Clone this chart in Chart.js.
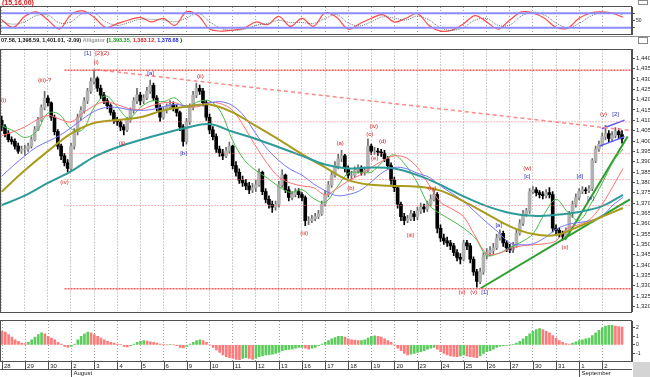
<!DOCTYPE html>
<html>
<head>
<meta charset="utf-8">
<script src="https://cdn.jsdelivr.net/npm/chart.js@4.4.1/dist/chart.umd.min.js"></script>
<style>
  body { margin: 0; background: #fff; }
  #wrap { position: relative; width: 650px; height: 377px; overflow: hidden; background: #fff; }
  canvas { position: absolute; left: 0; }
  #stoch { top: 0; }
  #main { top: 45px; }
  #osc { top: 317px; }
</style>
</head>
<body>
<div id="wrap">
  <canvas id="stoch" width="650" height="45"></canvas>
  <canvas id="main" width="650" height="271"></canvas>
  <canvas id="osc" width="650" height="60"></canvas>
</div>
<script>
// ---- data ----
const dayLabels = ['28','29','30','2','3','4','5','6','9','10','11','12','13','16','17','18','19','20','23','24','25','26','27','30','31','1','2'];
const monthLabels = ['August', 'September'];
const monthDays = [3, 25];
const barsPerDay = 7;

const firstOpen = 1410.0;
const closes = [
  1406.8, 1403.6, 1400.7, 1399.8, 1397.5, 1395.1, 1396.1,
  1396.1, 1397.5, 1400.7, 1405.4, 1410.1, 1416.2, 1420.8,
  1418.5, 1411.5, 1404.5, 1397.5, 1392.8, 1389.5, 1386.7,
  1397.5, 1404.5, 1411.5, 1414.8, 1419.4, 1424.1, 1428.8,
  1430.2, 1425.5, 1422.2, 1419.4, 1417.1, 1413.8, 1410.1,
  1409.2, 1406.8, 1405.4, 1410.1, 1414.8, 1419.4, 1422.2,
  1419.4, 1420.8, 1424.1, 1426.9, 1420.8, 1416.2, 1411.5,
  1414.8, 1416.6, 1417.6, 1416.2, 1413.8, 1406.8, 1399.8,
  1409.2, 1416.2, 1422.2, 1425.5, 1424.1, 1418.5, 1411.5,
  1405.4, 1402.1, 1396.1, 1394.2, 1392.8, 1395.1, 1397.5,
  1388.1, 1384.9, 1381.1, 1379.7, 1378.3, 1376.4, 1377.4,
  1378.8, 1384.9, 1375.5, 1371.8, 1369.4, 1368.0, 1369.4,
  1378.8, 1383.5, 1376.4, 1372.7, 1374.1, 1375.5, 1374.1,
  1372.7, 1361.5, 1361.5, 1362.4, 1363.4, 1364.8, 1369.4,
  1374.1, 1378.8, 1383.5, 1388.1, 1391.4, 1392.8, 1386.7,
  1383.5, 1383.5, 1385.8, 1386.7, 1384.9, 1385.8, 1397.5,
  1395.1, 1395.1, 1394.7, 1394.2, 1391.4, 1388.1, 1381.1,
  1377.4, 1369.4, 1363.4, 1361.5, 1362.4, 1364.8, 1363.4,
  1366.2, 1368.0, 1367.1, 1369.4, 1371.8, 1374.1, 1357.8,
  1353.1, 1351.7, 1350.7, 1349.3, 1346.1, 1343.7, 1342.8,
  1350.7, 1349.3, 1342.8, 1336.7, 1332.1, 1336.7, 1344.7,
  1346.1, 1347.0, 1348.4, 1353.1, 1355.4, 1350.7, 1348.4,
  1347.5, 1349.3, 1355.4, 1360.1, 1364.8, 1366.2, 1375.5,
  1376.4, 1375.0, 1374.1, 1373.6, 1375.0, 1374.1, 1357.8,
  1356.8, 1355.4, 1354.0, 1356.8, 1364.8, 1369.4, 1372.7,
  1375.5, 1376.4, 1376.0, 1376.9, 1390.5, 1396.1, 1398.4,
  1402.1, 1403.6, 1401.2, 1402.6, 1404.5, 1403.1, 1401.0
];
const highs = [
  1412, 1408, 1405, 1402, 1401, 1399, 1397.5,
  1398, 1399, 1402, 1407, 1411.5, 1417.5, 1424,
  1422, 1419, 1412.5, 1405.5, 1398.5, 1394, 1391,
  1399, 1406, 1413, 1416.5, 1421, 1425.5, 1430.5,
  1434.5, 1431, 1427, 1423.5, 1420.5, 1418, 1415,
  1411.5, 1410.5, 1408, 1411.5, 1416, 1421, 1425.5,
  1423.5, 1422.5, 1426, 1429.5, 1428, 1422, 1417.5,
  1416.5, 1418, 1419.5, 1419, 1417.5, 1414.5, 1408,
  1411, 1418, 1424, 1428, 1427, 1425.5, 1419.5,
  1413, 1407, 1403.5, 1397.5, 1396, 1397, 1399.5,
  1398, 1390, 1386.5, 1383, 1381.5, 1380, 1379.5,
  1381, 1386.5, 1385.5, 1377, 1373.5, 1371, 1371,
  1380.5, 1386, 1384, 1378, 1375.5, 1377, 1377,
  1375, 1373.5, 1363.5, 1364, 1365, 1366.5, 1371,
  1376, 1380.5, 1385, 1390, 1393.5, 1395.5, 1393.5,
  1388, 1385.5, 1387.5, 1388.5, 1388, 1387.5, 1401,
  1398.5, 1397, 1396.5, 1396, 1395.5, 1392.5, 1389.5,
  1382.5, 1378.5, 1370.5, 1365, 1364, 1366.5, 1366,
  1368, 1370, 1369.5, 1371, 1374, 1376.5, 1375,
  1359.5, 1355, 1353.5, 1352, 1350.5, 1347.5, 1345.5,
  1352, 1352, 1350.5, 1344, 1338, 1338.5, 1346,
  1348, 1349, 1350.5, 1355, 1357, 1356.5, 1352,
  1350, 1351, 1357, 1362, 1366.5, 1367.5, 1377,
  1378, 1377.5, 1376, 1375.5, 1376.5, 1377.5, 1375.5,
  1359.5, 1358, 1356.5, 1358, 1366, 1371, 1374.5,
  1377, 1378, 1377.5, 1378.5, 1391.5, 1397.5, 1400,
  1404, 1407.6, 1405, 1404.5, 1406.5, 1406, 1405
];
const lows = [
  1405, 1402, 1399.5, 1398.5, 1396, 1394, 1394,
  1393, 1395, 1396.5, 1400, 1405, 1409.5, 1415,
  1417, 1410, 1403, 1396, 1391, 1388, 1385,
  1386, 1396, 1403, 1410, 1413.5, 1418, 1423,
  1427.5, 1424, 1420.5, 1418, 1415.5, 1412.5, 1408.5,
  1407.5, 1405, 1403, 1404.5, 1409, 1413.5, 1418,
  1417.5, 1418, 1420, 1423, 1419.5, 1414.5, 1409.5,
  1410.5, 1413.5, 1415.5, 1414.5, 1412, 1405, 1397.5,
  1398.5, 1408, 1415, 1421, 1422.5, 1417, 1410,
  1403.5, 1400.5, 1394.5, 1392.5, 1391, 1392, 1394,
  1386.5, 1383, 1379.5, 1378, 1376.5, 1374.5, 1375,
  1375.5, 1378, 1374, 1370, 1367.5, 1365.5, 1366.5,
  1368, 1377.5, 1375, 1371, 1371.5, 1373, 1372.5,
  1371, 1359, 1359.5, 1360.5, 1361.5, 1362.5, 1364,
  1368.5, 1373, 1377.5, 1382.5, 1386.5, 1390, 1385,
  1382, 1381.5, 1382.5, 1384.5, 1383.5, 1383.5, 1385,
  1393.5, 1393.5, 1393, 1392.5, 1390, 1386.5, 1379,
  1375.5, 1367.5, 1361.5, 1359.5, 1360.5, 1361.5, 1361.5,
  1362, 1365, 1365.5, 1366, 1368.5, 1371, 1355.5,
  1351.5, 1350, 1349, 1347.5, 1344.5, 1342, 1340.5,
  1342, 1347.5, 1341, 1335, 1329.3, 1331, 1335.5,
  1343, 1344.5, 1345.5, 1347.5, 1352, 1349, 1346.5,
  1346, 1346, 1348.5, 1354.5, 1359, 1363.5, 1365,
  1374.5, 1373.5, 1372.5, 1372, 1372.5, 1372.5, 1356,
  1355, 1353.5, 1352, 1353, 1356, 1363, 1368,
  1371.5, 1374.5, 1374.5, 1375, 1376, 1389.5, 1395,
  1397.5, 1400.5, 1399.5, 1400, 1401.5, 1401, 1399
];

// moving averages, read at whole days (slow) and half days (Alligator)
const slowX = [0,1,2,3,4,5,6,7,8,9,10,11,12,13,14,15,16,17,18,19,20,21,22,23,24,25,26,26.9];
const tealAvg = [1369.0, 1373.6, 1379.7, 1385.3, 1392.3, 1397.0, 1400.5, 1403.6, 1406.4, 1408.2, 1404.5, 1401.0, 1397.0, 1392.8,
  1388.6, 1386.7, 1387.2, 1386.7, 1383.5, 1378.8, 1373.2, 1368.5, 1365.2, 1363.8, 1364.3, 1365.7, 1368.5, 1374.0];
const oliveAvg = [1375.5, 1385.8, 1395.1, 1403.6, 1408.7, 1410.1, 1411.5, 1414.8, 1416.7, 1417.6, 1413.8, 1407.3, 1400.7, 1393.7,
  1387.2, 1381.1, 1378.8, 1378.3, 1377.9, 1376.0, 1370.8, 1364.8, 1358.7, 1355.0, 1354.5, 1358.7, 1363.4, 1367.6];

const fastX = [0,0.5,1,1.5,2,2.5,3,3.5,4,4.5,5,5.5,6,6.5,7,7.5,8,8.5,9,9.5,10,10.5,11,11.5,12,12.5,13,13.5,14,14.5,
  15,15.5,16,16.5,17,17.5,18,18.5,19,19.5,20,20.5,21,21.5,22,22.5,23,23.5,24,24.5,25,25.5,26,26.5,26.9];
const jawBlue = [1383.0, 1388.1, 1392.8, 1397.0, 1399.8, 1402.6, 1406.4, 1410.6, 1414.3, 1416.2, 1416.2, 1415.2, 1414.8, 1415.2,
  1416.6, 1417.6, 1417.1, 1417.1, 1418.5, 1419.0, 1417.1, 1412.0, 1403.6, 1396.1, 1390.5, 1386.3, 1383.5, 1379.3, 1376.0, 1373.6,
  1374.1, 1376.0, 1380.2, 1384.9, 1387.2, 1386.7, 1384.4, 1382.5, 1378.3, 1374.6, 1370.8, 1365.7, 1360.6, 1355.9, 1350.7, 1349.8,
  1350.3, 1353.1, 1357.3, 1359.6, 1360.6, 1361.5, 1363.8, 1369.4, 1372.7];
const teethRed = [1402.6, 1404.5, 1406.8, 1410.1, 1412.4, 1410.6, 1409.2, 1413.4, 1417.1, 1419.0, 1417.6, 1415.7, 1415.2, 1417.1,
  1418.5, 1418.5, 1416.6, 1416.6, 1418.5, 1418.0, 1414.8, 1406.8, 1397.5, 1389.1, 1382.5, 1379.7, 1378.3, 1377.4, 1374.1, 1376.9,
  1380.7, 1383.5, 1387.2, 1390.5, 1392.8, 1391.9, 1387.2, 1378.8, 1370.4, 1367.1, 1363.4, 1354.0, 1345.6, 1345.6, 1347.9, 1349.3,
  1349.8, 1350.3, 1351.7, 1357.8, 1359.6, 1362.4, 1369.4, 1378.8, 1386.7];
const lipsGreen = [1407.3, 1405.0, 1401.7, 1404.5, 1413.4, 1412.9, 1405.9, 1405.4, 1416.2, 1421.8, 1416.6, 1411.0, 1416.2, 1419.4,
  1419.0, 1420.8, 1416.2, 1419.0, 1419.4, 1413.8, 1400.2, 1390.9, 1385.8, 1382.1, 1377.9, 1375.1, 1376.5, 1372.2, 1370.4, 1377.4,
  1384.4, 1384.9, 1384.9, 1390.0, 1393.3, 1388.1, 1379.7, 1369.0, 1364.8, 1361.5, 1357.8, 1353.1, 1344.7, 1345.6, 1348.4, 1351.2,
  1355.0, 1364.8, 1371.8, 1365.7, 1361.5, 1369.4, 1379.7, 1390.5, 1396.1];

// stochastic panel
const stochTitle = '(15,16,00)';
const stochLevels = [80, 20];
const stochK = [52,22,67,85,52,15,74,89,63,22,37,52,63,44,59,30,85,70,15,7,11,19,44,33,67,26,59,26,81,63,
  15,37,59,74,44,59,78,30,7,11,37,70,44,15,52,85,81,59,22,19,59,81,85,78,63];
const stochD = [45,35,45,70,72,40,45,78,80,45,30,42,55,55,52,45,60,80,45,18,10,14,30,38,50,42,42,38,58,74,
  40,28,45,65,60,52,68,52,20,10,22,52,58,30,32,68,84,72,40,20,38,68,82,82,75];

// oscillator histogram, one value per price bar
const aoValues = [
  1.6, 1.5, 1.2, 0.9, 0.6, 0.4, 0.2,
  0.15, 0.3, 0.6, 0.9, 1.2, 1.4, 1.3,
  1.0, 0.8, 0.6, 0.3, 0.1, -0.2, -0.3,
  -0.2, 0.1, 0.6, 1.0, 1.3, 1.5, 1.4,
  1.2, 1.0, 0.8, 0.6, 0.4, 0.3, 0.2,
  0.1, 0.05, -0.2, -0.25, -0.1, 0.1, 0.3,
  0.4, 0.5, 0.45, 0.35, 0.3, 0.2, 0.1,
  0.05, 0.0, 0.05, 0.0, -0.1, -0.3, -0.35,
  -0.2, 0.1, 0.3, 0.5, 0.6, 0.5, 0.3,
  0.0, -0.3, -0.6, -0.9, -1.2, -1.4, -1.5,
  -1.6, -1.7, -1.75, -1.6, -1.5, -1.6, -1.7,
  -1.6, -1.4, -1.3, -1.2, -1.15, -1.1, -1.0,
  -0.9, -0.7, -0.6, -0.55, -0.5, -0.4, -0.3,
  -0.3, -0.4, -0.5, -0.4, -0.3, -0.1, 0.1,
  0.3, 0.5, 0.7, 0.85, 1.0, 1.0, 0.9,
  0.7, 0.6, 0.55, 0.5, 0.5, 0.6, 0.8,
  1.0, 1.05, 1.0, 0.9, 0.7, 0.5, 0.3,
  0.0, -0.4, -0.7, -1.0, -1.2, -1.1, -1.0,
  -0.9, -0.8, -0.7, -0.5, -0.4, -0.3, -0.5,
  -0.8, -1.0, -1.2, -1.3, -1.35, -1.4, -1.3,
  -1.2, -1.3, -1.4, -1.45, -1.5, -1.3, -1.0,
  -0.8, -0.7, -0.5, -0.3, -0.15, -0.1, -0.05,
  0.0, 0.05, 0.2, 0.4, 0.7, 1.0, 1.3,
  1.6, 1.8, 1.9, 1.8, 1.6, 1.4, 1.1,
  0.8, 0.5, 0.3, 0.15, 0.1, 0.2, 0.35,
  0.5, 0.6, 0.7, 0.8, 1.1, 1.4, 1.7,
  2.0, 2.2, 2.3, 2.3, 2.2, 2.15, 2.1
];
const oscTicks = [2, 1, 0, -1];

// drawing tools on the price panel
const fibLevels = [1434.2, 1409.3, 1393.9, 1381.4, 1368.8, 1328.5];
const fibStartDay = 2.72;
const resistX = [4.09, 27.2], resistY = [1434.5, 1405.1];
const supportX = [20.74, 27.2], supportY = [1328.8, 1371.8];
const steepX = [24.39, 27.1], steepY = [1352.1, 1402.2];
const channelUpX = [25.98, 26.97], channelUpY = [1405.9, 1410.1];
const channelDnX = [25.89, 26.97], channelDnY = [1397.5, 1402.1];

const waveText = ['(i)','(iii)-?','[1]','[2](2)','(i)','[a]','(ii)','(ii)','[b]','(iv)','(iii)','(a)','(iv)','(c)','(d)','(e)','(b)',
  '(iii)','(iv)','(v)','(v)','[1]','[a]','[b]','(w)','[c]','[d]','[e]','(x)','(y)','[2]'];
const waveX = [0.08, 1.86, 3.72, 4.35, 4.09, 6.45, 8.6, 5.21, 7.87, 2.72, 13.1, 14.65, 16.11, 15.94, 16.49, 16.15, 15.12,
  17.7, 18.64, 19.93, 20.44, 20.91, 21.52, 22.03, 22.76, 22.76, 25.03, 25.5, 24.39, 26.06, 26.58];
const waveY = [1419.9, 1429.3, 1442.3, 1442.3, 1438.1, 1432.5, 1431.1, 1398.9, 1394.2, 1380.2, 1355.4, 1398.9, 1407.3, 1403.1, 1399.8, 1391.4, 1376.9,
  1354.5, 1376.9, 1326.9, 1326.9, 1326.9, 1359.2, 1347.5, 1386.7, 1383.0, 1383.0, 1372.2, 1348.4, 1412.9, 1412.9];
const waveColor = ['r','r','b','r','r','b','r','r','b','r','r','r','r','r','r','r','r',
  'r','r','r','r','b','b','b','r','b','b','b','r','r','b'];

const headerParts = ['07.58, 1,398.59, 1,401.01, -2.09)', ' Alligator ', '(', '1,393.35,', ' 1,383.12,', ' 1,378.68', ' )'];
const headerColors = ['#111', '#999', '#111', '#1a9a1a', '#e02020', '#2020e0', '#111'];

const priceTicks = [1320,1325,1330,1335,1340,1345,1350,1355,1360,1365,1370,1375,1380,1385,1390,1395,1400,1405,1410,1415,1420,1425,1430,1435,1440];

// ---- layout ----
const xMin = -0.074, xMax = 27.29;
const FONT = '"Liberation Sans", Arial, sans-serif';
Chart.defaults.font.family = FONT;
Chart.defaults.color = '#222';

const barX = [], opens = [];
for (let i = 0; i < closes.length; i++) {
  barX.push(Math.floor(i / barsPerDay) + (i % barsPerDay) / barsPerDay);
  opens.push(i === 0 ? firstOpen : closes[i - 1]);
}
const isUp = closes.map((c, i) => c >= opens[i]);
const pts = (xs, ys) => xs.map((x, i) => ({x, y: ys[i]}));

const dayGrid = {
  type: 'linear', min: xMin, max: xMax, offset: false,
  afterBuildTicks: s => { s.ticks = dayLabels.map((_, i) => ({value: i})); },
  afterFit: s => { s.height = 0; },
  ticks: {display: false, autoSkip: false},
  grid: {color: '#a0a0a0', drawTicks: false, offset: false},
  border: {display: false, dash: [1, 2]}
};

const framePlugin = {
  id: 'frame',
  afterDraw(chart) {
    const {ctx, chartArea: a} = chart;
    ctx.save();
    ctx.strokeStyle = '#505050';
    ctx.lineWidth = 1;
    ctx.strokeRect(Math.round(a.left) + 0.5, Math.round(a.top) - 0.5, Math.round(a.width) - 1, Math.round(a.height) + 1);
    ctx.restore();
  }
};

function lineSet(data, color, width, extra) {
  return Object.assign({type: 'line', data, borderColor: color, borderWidth: width, pointRadius: 0,
    fill: false, tension: 0.35, order: 0}, extra || {});
}

// ---- top stochastic panel with the header strip ----
const headerPlugin = {
  id: 'header',
  afterDraw(chart) {
    const ctx = chart.ctx;
    ctx.save();
    ctx.textBaseline = 'middle';
    ctx.font = 'bold 7px ' + FONT;
    ctx.fillStyle = '#e01818';
    ctx.fillText(stochTitle, 2, 3);
    ctx.strokeStyle = '#909090';
    ctx.beginPath(); ctx.moveTo(0, 36.5); ctx.lineTo(650, 36.5); ctx.stroke();
    ctx.font = 'bold 5.5px ' + FONT;
    let x = 1;
    headerParts.forEach((p, i) => {
      ctx.fillStyle = headerColors[i];
      ctx.fillText(p, x, 40.5);
      x += ctx.measureText(p).width;
    });
    ctx.strokeStyle = '#888';
    ctx.strokeRect(638.5, 0.5, 9, 4);
    ctx.strokeRect(638.5, 37.5, 9, 6);
    ctx.restore();
  }
};

new Chart(document.getElementById('stoch'), {
  type: 'line',
  data: {datasets: [
    lineSet(pts([xMin, xMax], [stochLevels[0], stochLevels[0]]), '#8c8cff', 2, {tension: 0}),
    lineSet(pts([xMin, xMax], [stochLevels[1], stochLevels[1]]), '#8c8cff', 2, {tension: 0}),
    lineSet(pts(fastX, stochD), '#707070', 1, {borderDash: [1, 1]}),
    lineSet(pts(fastX, stochK), '#ff4a4a', 1.2)
  ]},
  options: {
    responsive: false, animation: false, devicePixelRatio: 1,
    layout: {padding: {top: 7, bottom: 11, left: 0, right: 0}},
    plugins: {legend: {display: false}, tooltip: {enabled: false}},
    scales: {
      x: dayGrid,
      y: {
        position: 'right', min: -5, max: 105,
        afterBuildTicks: s => { s.ticks = [80, 50, 20].map(v => ({value: v})); },
        afterFit: s => { s.width = 18; },
        ticks: {font: {size: 5}, padding: 1, callback: v => (v === 50 ? '50' : '')},
        grid: {drawOnChartArea: false, tickLength: 3, color: '#505050'},
        border: {display: true, color: '#505050'}
      }
    }
  },
  plugins: [framePlugin, headerPlugin]
});

// ---- main price panel ----
const wavePlugin = {
  id: 'waves',
  afterDatasetsDraw(chart) {
    const {ctx, scales: {x, y}} = chart;
    ctx.save();
    ctx.font = '6px ' + FONT;
    ctx.textAlign = 'center';
    ctx.textBaseline = 'middle';
    waveText.forEach((t, i) => {
      ctx.fillStyle = waveColor[i] === 'b' ? '#2a2ab8' : '#d42020';
      ctx.fillText(t, x.getPixelForValue(waveX[i]), y.getPixelForValue(waveY[i]));
    });
    ctx.restore();
  }
};

const fibSets = fibLevels.map((lvl, i) => {
  const outer = i === 0 || i === fibLevels.length - 1;
  return lineSet(pts([fibStartDay, xMax], [lvl, lvl]), outer ? '#ff5a5a' : '#ff7070', outer ? 1.5 : 1,
    {tension: 0, borderDash: outer ? [2, 1] : [1, 2]});
});

new Chart(document.getElementById('main'), {
  type: 'bar',
  data: {datasets: [
    {type: 'bar', data: barX.map((x, i) => ({x, y: [lows[i], highs[i]]})),
      backgroundColor: isUp.map(u => (u ? '#6a6a6a' : '#000')), barThickness: 1, grouped: false, order: 3},
    {type: 'bar', data: barX.map((x, i) => ({x, y: [opens[i], closes[i]]})),
      backgroundColor: isUp.map(u => (u ? '#b2b2b2' : '#000')), barThickness: 3, grouped: false, order: 2},
    ...fibSets,
    lineSet(pts(resistX, resistY), '#ff8a8a', 1.5, {tension: 0, borderDash: [4, 3]}),
    lineSet(pts(slowX, tealAvg), '#2f9a9a', 2),
    lineSet(pts(slowX, oliveAvg), '#a99b1c', 2),
    lineSet(pts(fastX, jawBlue), '#7474ff', 1),
    lineSet(pts(fastX, teethRed), '#ff7070', 1),
    lineSet(pts(fastX, lipsGreen), '#45bb45', 1),
    lineSet(pts(supportX, supportY), '#2b9e2b', 2, {tension: 0}),
    lineSet(pts(steepX, steepY), '#2b9e2b', 2, {tension: 0}),
    lineSet(pts(channelUpX, channelUpY), '#5a5aff', 1.5, {tension: 0}),
    lineSet(pts(channelDnX, channelDnY), '#5a5aff', 1.5, {tension: 0})
  ]},
  options: {
    responsive: false, animation: false, devicePixelRatio: 1,
    layout: {padding: 0},
    plugins: {legend: {display: false}, tooltip: {enabled: false}},
    scales: {
      x: dayGrid,
      y: {
        position: 'right', min: 1317.6, max: 1444.2,
        afterBuildTicks: s => { s.ticks = priceTicks.map(v => ({value: v})); },
        afterFit: s => { s.width = 18; },
        ticks: {font: {size: 6}, padding: 1, autoSkip: false, callback: v => v.toLocaleString('en-US')},
        grid: {drawOnChartArea: false, tickLength: 3, color: '#505050'},
        border: {display: true, color: '#505050'}
      }
    }
  },
  plugins: [framePlugin, wavePlugin]
});

// ---- oscillator panel and date axis ----
const axisPlugin = {
  id: 'dateAxis',
  afterDraw(chart) {
    const {ctx, scales: {x}, chartArea: a} = chart;
    ctx.save();
    ctx.strokeStyle = '#505050';
    ctx.lineWidth = 1;
    ctx.beginPath();
    ctx.moveTo(0, a.bottom + 8.5); ctx.lineTo(a.right, a.bottom + 8.5);
    dayLabels.forEach((_, i) => {
      const px = Math.round(x.getPixelForValue(i)) + 0.5;
      ctx.moveTo(px, a.bottom); ctx.lineTo(px, a.bottom + 8);
    });
    ctx.stroke();
    ctx.font = '6px ' + FONT;
    ctx.fillStyle = '#222';
    ctx.textBaseline = 'middle';
    monthLabels.forEach((m, i) => {
      const px = Math.round(x.getPixelForValue(monthDays[i])) + 0.5;
      ctx.beginPath(); ctx.moveTo(px, a.bottom + 8); ctx.lineTo(px, a.bottom + 16); ctx.stroke();
      ctx.fillText(m, px + 2, a.bottom + 12);
    });
    ctx.fillStyle = '#d4d4d4';
    ctx.fillRect(a.right + 1, a.bottom + 1, chart.width - a.right, chart.height - a.bottom);
    ctx.restore();
  }
};

new Chart(document.getElementById('osc'), {
  type: 'bar',
  data: {datasets: [{
    data: barX.map((x, i) => ({x, y: aoValues[i]})),
    backgroundColor: aoValues.map((v, i) => (i > 0 && v >= aoValues[i - 1] ? '#5ccc5c' : '#ff7a7a')),
    barThickness: 2, grouped: false
  }]},
  options: {
    responsive: false, animation: false, devicePixelRatio: 1,
    layout: {padding: {top: 2, bottom: 0}},
    plugins: {legend: {display: false}, tooltip: {enabled: false}},
    scales: {
      x: Object.assign({}, dayGrid, {
        afterFit: s => { s.height = 16; },
        ticks: {display: true, autoSkip: false, maxRotation: 0, align: 'start', labelOffset: 2, padding: 2,
          font: {size: 6}, color: '#222', callback: (v, i) => dayLabels[i]}
      }),
      y: {
        position: 'right', min: -1.9, max: 2.8,
        afterBuildTicks: s => { s.ticks = oscTicks.map(v => ({value: v})); },
        afterFit: s => { s.width = 18; },
        ticks: {font: {size: 5}, padding: 1, autoSkip: false},
        grid: {drawOnChartArea: false, tickLength: 3, color: '#505050'},
        border: {display: true, color: '#505050'}
      }
    }
  },
  plugins: [framePlugin, axisPlugin]
});
</script>
</body>
</html>
